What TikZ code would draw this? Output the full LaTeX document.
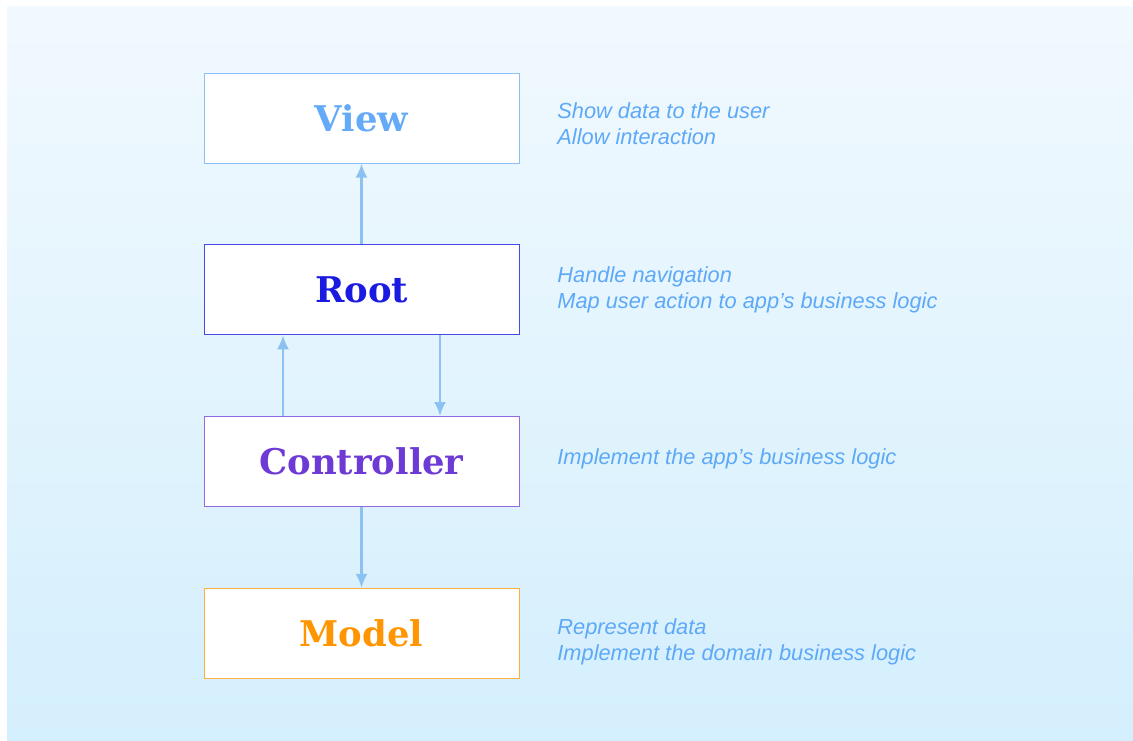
\documentclass[tikz,border=0pt]{standalone}
\usepackage{fontspec}
\setmainfont{Liberation Sans}
\newfontfamily\layerfont{DejaVu Serif}
\usetikzlibrary{positioning,arrows.meta}
\definecolor{bgtop}{HTML}{F1F9FE}
\definecolor{bgbottom}{HTML}{D4EFFD}
\definecolor{linkcol}{HTML}{8CC2F2}
\definecolor{notecol}{HTML}{5EA9F7}
\definecolor{viewcol}{HTML}{64AAF8}
\definecolor{rootcol}{HTML}{1A1AE0}
\definecolor{ctrlcol}{HTML}{6E3AD6}
\definecolor{modelcol}{HTML}{FF9500}
\begin{document}
\begin{tikzpicture}[
      x=0.5pt, y=-0.5pt,
      node distance=40.4pt,
      layer/.style={draw, fill=white, line width=0.5pt, minimum width=157.5pt,
        minimum height=45pt, font=\layerfont\bfseries\fontsize{17.7}{20}\selectfont},
      note/.style={anchor=west, align=left, inner sep=0pt, text=notecol,
        font=\itshape\fontsize{10.9}{13}\selectfont},
      link/.style={draw=linkcol, line width=1.2pt, -{Latex[length=7pt,width=6pt]}},]
    % background
    \useasboundingbox (0,0) rectangle (1133,740);
    \shade[top color=bgtop, bottom color=bgbottom] (7,6) rectangle (1133,740);
    % layers
    \node[layer, draw=viewcol!75, text=viewcol] (view) at (361.5,118) {View};
    \node[layer, draw=rootcol!80, text=rootcol, below=of view] (root) {Root};
    \node[layer, draw=ctrlcol!75, text=ctrlcol, below=of root] (controller) {Controller};
    \node[layer, draw=modelcol!75, text=modelcol, below=of controller] (model) {Model};
    % notes
    \node[note] (viewnote) at (557,124) {Show data to the user\\Allow interaction};
    \node[note] (rootnote) at (557,290) {Handle navigation\\Map user action to app’s business logic};
    \node[note] (ctrlnote) at (557,459) {Implement the app’s business logic};
    \node[note] (modelnote) at (557,642) {Represent data\\Implement the domain business logic};
    % links
    \draw[link] (root) -- (view);
    \draw[link] ([xshift=-39.25pt]controller.north) -- ([xshift=-39.25pt]root.south);
    \draw[link] ([xshift=39.25pt]root.south) -- ([xshift=39.25pt]controller.north);
    \draw[link] (controller) -- (model);
\end{tikzpicture}
\end{document}
